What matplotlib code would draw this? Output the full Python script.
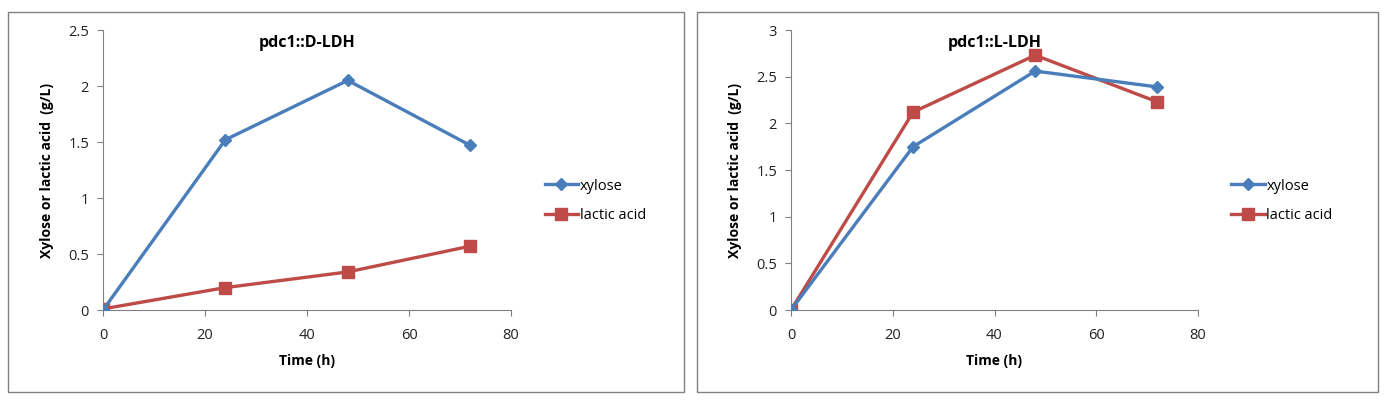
import numpy as np
import matplotlib
matplotlib.use("Agg")
import matplotlib.pyplot as plt
from matplotlib.patches import Rectangle

plt.rcParams['font.family'] = ['Open Sans', 'DejaVu Sans']

time_h = [0, 24, 48, 72]

# pdc1::D-LDH
d_xylose = [0.0, 1.52, 2.05, 1.47]
d_lactic = [0.01, 0.20, 0.34, 0.57]

# pdc1::L-LDH
l_xylose = [0.0, 1.75, 2.56, 2.39]
l_lactic = [0.0, 2.12, 2.73, 2.23]

titles = ['pdc1::D-LDH', 'pdc1::L-LDH']
ymax = [2.5, 3.0]

blue = '#4A7EBB'
red = '#BE4B48'

fig = plt.figure(figsize=(13.88, 4.03), dpi=100)

# outer chart frames
for x0, x1 in [(8, 684), (697, 1378)]:
    fig.patches.append(Rectangle((x0 / 1388, 1 - 392 / 403), (x1 - x0) / 1388, 380 / 403,
                                 transform=fig.transFigure, fill=False,
                                 edgecolor='#808080', linewidth=1.0))

axes_pos = [[103 / 1388, 1 - 310 / 403, 408 / 1388, 280 / 403],
            [791 / 1388, 1 - 310 / 403, 407 / 1388, 280 / 403]]
series = [(d_xylose, d_lactic), (l_xylose, l_lactic)]

for i in range(2):
    ax = fig.add_axes(axes_pos[i])
    xy, la = series[i]
    ax.plot(time_h, xy, color=blue, linewidth=2.4, marker='D', markersize=6,
            label='xylose', zorder=3)
    ax.plot(time_h, la, color=red, linewidth=2.4, marker='s', markersize=9,
            label='lactic acid', zorder=2)
    ax.set_xlim(0, 80)
    ax.set_ylim(0, ymax[i])
    ax.set_xticks([0, 20, 40, 60, 80])
    ax.set_yticks(np.arange(0, ymax[i] + 0.01, 0.5))
    ax.set_yticklabels(['0' if v == 0 else f'{v:g}' for v in np.arange(0, ymax[i] + 0.01, 0.5)])
    for s in ['top', 'right']:
        ax.spines[s].set_visible(False)
    for s in ['left', 'bottom']:
        ax.spines[s].set_color('#808080')
        ax.spines[s].set_linewidth(0.8)
    ax.tick_params(axis='both', colors='#808080', labelcolor='#222222', labelsize=10.5,
                   direction='out', length=4)
    ax.tick_params(axis='x', pad=9)
    ax.tick_params(axis='y', pad=6)
    ax.set_xlabel('Time (h)', fontsize=10, fontweight='bold', labelpad=8)
    ax.set_ylabel('Xylose or lactic acid  (g/L)', fontsize=10, fontweight='bold', labelpad=10)
    ax.set_title(titles[i], fontsize=11.5, fontweight='bold', y=0.91)
    ax.patch.set_alpha(0)
    ax.legend(loc='center left', bbox_to_anchor=(1.05, 0.39), frameon=False,
              fontsize=10.5, handlelength=2.3, handletextpad=0.1, labelspacing=1.0)

fig.savefig('out.png', dpi=100)
